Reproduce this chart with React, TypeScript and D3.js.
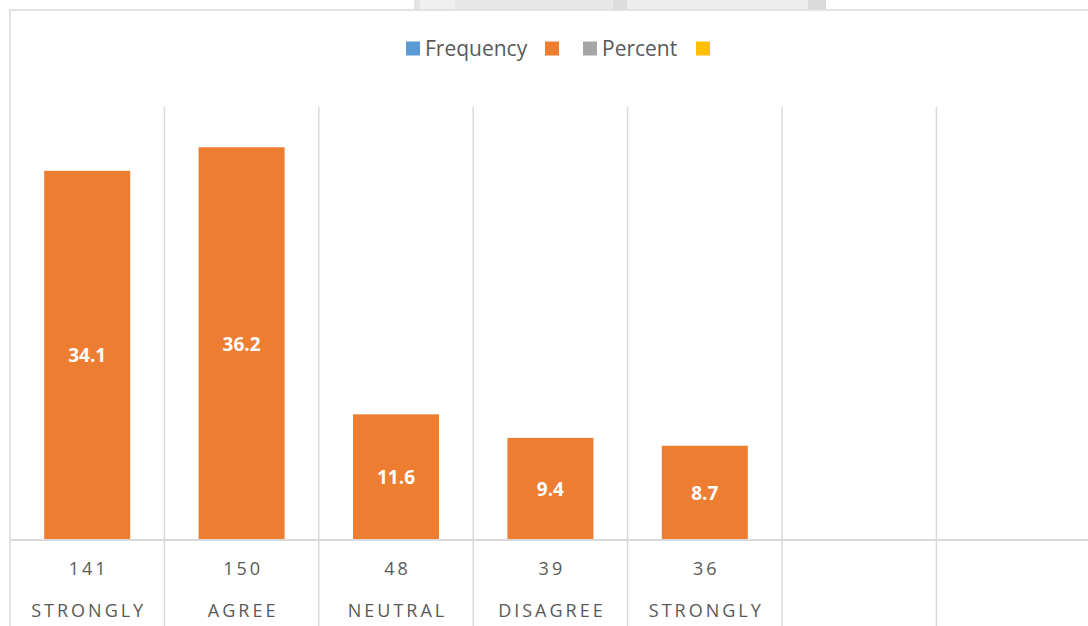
import React from "react";
import * as d3 from "d3";

const categories = ["STRONGLY", "AGREE", "NEUTRAL", "DISAGREE", "STRONGLY"];
const frequency = [141, 150, 48, 39, 36];
const percent = [34.1, 36.2, 11.6, 9.4, 8.7];
const legendLabels = ["Frequency", "", "Percent", ""];
const legendColors = ["#5b9bd5", "#ed7d31", "#a5a5a5", "#ffc000"];
const slotCount = 7;

const W = 1088;
const H = 626;
const FONT = "'Open Sans', 'Noto Sans', sans-serif";

export default function App() {
  const left = 10;
  const plotTop = 107;
  const baseY = 540;
  const x = d3
    .scaleBand<number>()
    .domain(d3.range(slotCount))
    .range([left, left + 154.4 * slotCount])
    .padding(0);
  const y = d3.scaleLinear().domain([0, 165]).range([baseY, baseY - 432]);
  const barW = x.bandwidth() * 0.557;

  const legendX = [406, 545, 583, 696];

  return (
    <svg width={W} height={H} style={{ position: "absolute", left: 0, top: 0, background: "#fff" }}>
      <rect x={0} y={0} width={W} height={H} fill="#ffffff" />
      {/* top artifact */}
      <rect x={414} y={0} width={412} height={9} fill="#e4e4e4" />
      <rect x={420} y={0} width={35} height={9} fill="#f0f0f0" />
      <rect x={455} y={0} width={158} height={9} fill="#e7e7e7" />
      <rect x={613} y={0} width={14} height={9} fill="#dcdcdc" />
      <rect x={627} y={0} width={181} height={9} fill="#ededed" />
      <rect x={808} y={0} width={18} height={9} fill="#dadada" />
      {/* chart border */}
      <rect x={10} y={10} width={W + 20} height={H + 20} fill="#ffffff" stroke="#d9d9d9" strokeWidth={1.5} />

      {/* legend */}
      {legendLabels.map((lab, i) => (
        <g key={i}>
          <rect x={legendX[i]} y={41.5} width={14} height={14} fill={legendColors[i]} />
          {lab && (
            <text x={legendX[i] + 19} y={56} fontFamily={FONT} fontSize={21} fill="#595959">
              {lab}
            </text>
          )}
        </g>
      ))}

      {/* vertical gridlines */}
      {d3.range(1, slotCount).map((i) => (
        <line
          key={i}
          x1={x(i)!}
          x2={x(i)!}
          y1={plotTop}
          y2={H}
          stroke="#d9d9d9"
          strokeWidth={1.5}
        />
      ))}
      {/* baseline */}
      <line x1={10} x2={W} y1={baseY} y2={baseY} stroke="#d9d9d9" strokeWidth={2} />

      {/* bars */}
      {frequency.map((v, i) => {
        const cx = x(i)! + x.bandwidth() / 2;
        return (
          <g key={i}>
            <rect x={cx - barW / 2} y={y(v)} width={barW} height={baseY - 1 - y(v)} fill="#ed7d31" />
            <text
              x={cx}
              y={(y(v) + baseY) / 2 + 7}
              textAnchor="middle"
              fontFamily={FONT}
              fontWeight="bold"
              fontSize={19}
              fill="#ffffff"
            >
              {percent[i].toFixed(1)}
            </text>
            <text
              x={cx + 1.5}
              y={574.5}
              textAnchor="middle"
              fontFamily={FONT}
              fontSize={18}
              letterSpacing={3}
              fill="#595959"
            >
              {v}
            </text>
            <text
              x={cx + 1.5}
              y={616.5}
              textAnchor="middle"
              fontFamily={FONT}
              fontSize={18}
              letterSpacing={3}
              fill="#595959"
            >
              {categories[i]}
            </text>
          </g>
        );
      })}
    </svg>
  );
}
